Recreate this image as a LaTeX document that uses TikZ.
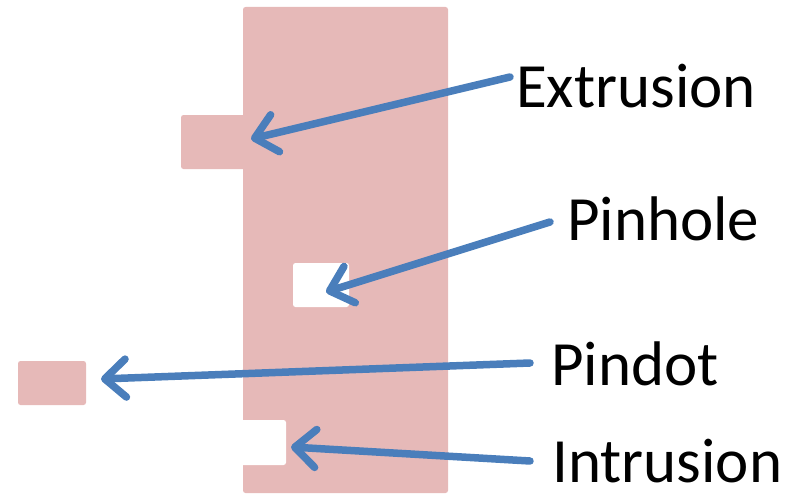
\documentclass[tikz,border=0pt]{standalone}
\usepackage{fontspec}
\setmainfont{Carlito}
\usetikzlibrary{arrows.meta}
\definecolor{layerpink}{HTML}{E6B9B8}
\definecolor{pointerblue}{HTML}{4A7EBB}
\tikzset{
  metalpart/.style={fill=layerpink, draw=none, rounded corners=2.5pt},
  voidpart/.style={fill=white, draw=none, rounded corners=2.5pt},
  defectlabel/.style={anchor=base west, inner sep=0pt, text depth=0pt,
    font=\fontsize{63}{70}\selectfont},
  pointer/.style={draw=pointerblue, line width=7.5pt, line cap=round,
    -{Straight Barb[length=21pt, width=38pt, round]}},
}
\begin{document}
\begin{tikzpicture}[x=1pt, y=-1pt]
  \useasboundingbox (0,0) rectangle (800,495);
  % metal layer with its defects
  \path[metalpart] (243,7) rectangle (448,493);
  \path[metalpart] (181,115) rectangle (246,169);
  \path[metalpart] (18,361) rectangle (86,405);
  \path[voidpart] (293,263) rectangle (349,307);
  \path[voidpart] (238,420) rectangle (286,465);
  % anchor points for the pointers
  \coordinate (extTip) at (251,139);
  \coordinate (pinTip) at (326,292);
  \coordinate (dotTip) at (101,379);
  \coordinate (intTip) at (291,447);
  \coordinate (extTail) at (510,77);
  \coordinate (pinTail) at (550,222);
  \coordinate (dotTail) at (530,363);
  \coordinate (intTail) at (530,461);
  % labels
  \node[defectlabel] (ext) at (516,107) {Extrusion};
  \node[defectlabel] (pin) at (567,240) {Pinhole};
  \node[defectlabel] (dot) at (551,385) {Pindot};
  \node[defectlabel] (int) at (552,482) {Intrusion};
  % pointers
  \draw[pointer] (extTail) -- (extTip);
  \draw[pointer] (pinTail) -- (pinTip);
  \draw[pointer] (dotTail) -- (dotTip);
  \draw[pointer] (intTail) -- (intTip);
\end{tikzpicture}
\end{document}
